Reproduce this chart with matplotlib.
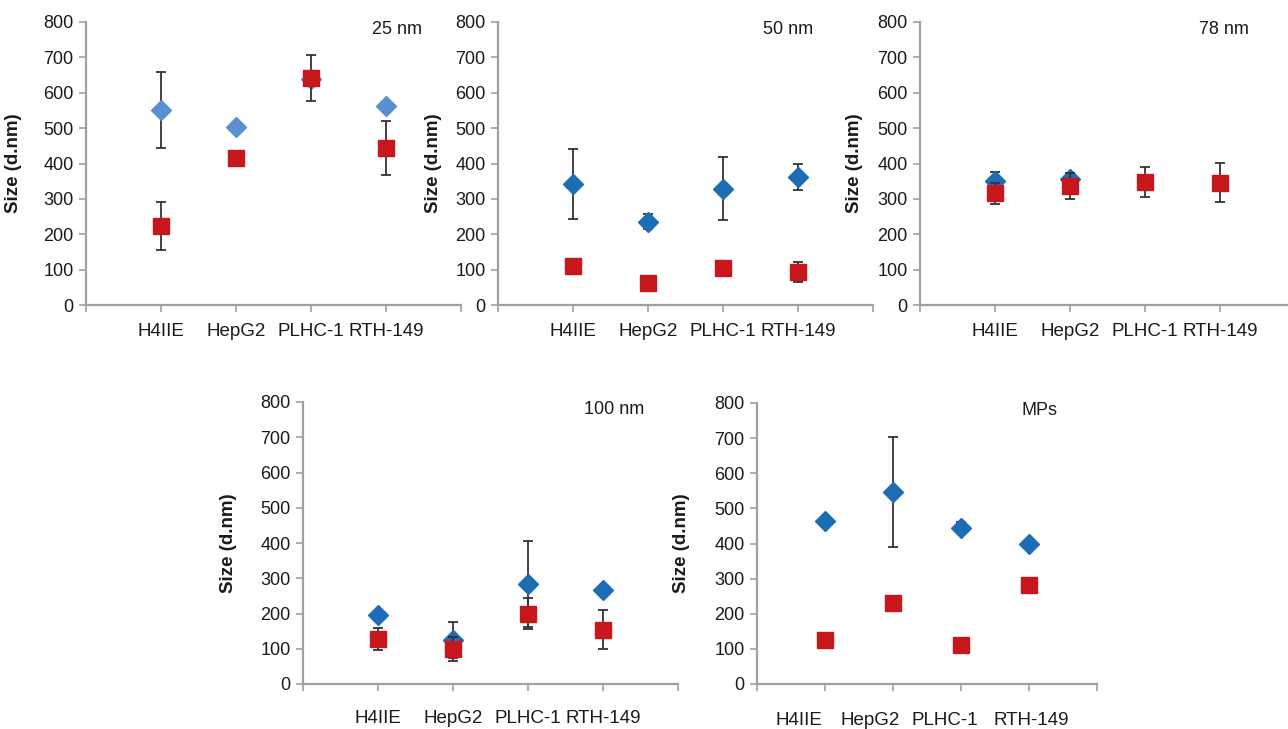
import numpy as np
import matplotlib
matplotlib.use('Agg')
import matplotlib.pyplot as plt

plt.rcParams['font.family'] = ['Liberation Sans', 'DejaVu Sans']

cells = ['H4IIE', 'HepG2', 'PLHC-1', 'RTH-149']
panel_names = ['25 nm', '50 nm', '78 nm', '100 nm', 'MPs']

# blue diamonds (0 = hidden behind the red square)
blue_25 = [551, 502, 640, 562]
blue_25_err = [107, 0, 0, 0]
blue_50 = [341, 236, 328, 361]
blue_50_err = [99, 22, 89, 37]
blue_78 = [350, 355, 0, 0]
blue_78_err = [27, 12, 0, 0]
blue_100 = [196, 125, 284, 267]
blue_100_err = [10, 50, 122, 8]
blue_mp = [465, 547, 445, 400]
blue_mp_err = [10, 157, 15, 0]

# red squares
red_25 = [223, 416, 643, 444]
red_25_err = [68, 0, 65, 77]
red_50 = [111, 63, 106, 93]
red_50_err = [0, 0, 0, 29]
red_78 = [316, 336, 347, 346]
red_78_err = [30, 36, 43, 55]
red_100 = [128, 99, 200, 154]
red_100_err = [31, 33, 43, 56]
red_mp = [124, 232, 112, 281]
red_mp_err = [0, 0, 0, 0]

blues = [blue_25, blue_50, blue_78, blue_100, blue_mp]
blue_errs = [blue_25_err, blue_50_err, blue_78_err, blue_100_err, blue_mp_err]
reds = [red_25, red_50, red_78, red_100, red_mp]
red_errs = [red_25_err, red_50_err, red_78_err, red_100_err, red_mp_err]

W, H = 1288, 729
# axes boxes in pixels: left, top(y=800), right, bottom(y=0)
boxes = [(86, 22, 461, 305), (498, 22, 873, 305), (920, 22, 1295, 305),
         (303, 402, 678, 684), (757, 403, 1097, 684)]
label_x = [22, 442, 863, 237, 690]
title_x = [0.83, 0.773, 0.81, 0.83, 0.83]
xpad = [13, 13, 13, 19, 20]
# where the category names sit (the last panel is shifted in the original)
name_pos = [[1, 2, 3, 4]] * 4 + [[0.62, 1.66, 2.76, 4.03]]
blue_cols = ['#5b8fd2', '#1d6db6', '#1d6db6', '#1d6db6', '#1d6db6']
red_col = '#c8171c'
axis_col = '#a0a0a0'
txt_col = '#1a1a1a'
err_kw = dict(fmt='none', ecolor='#333333', elinewidth=1.3, capsize=3.5, capthick=1.3)

fig = plt.figure(figsize=(W / 100, H / 100), dpi=100)

x = np.arange(1, 5)
for i in range(5):
    l, t, r, b = boxes[i]
    ax = fig.add_axes([l / W, 1 - b / H, (r - l) / W, (b - t) / H])
    bv = np.array(blues[i], float)
    be = np.array(blue_errs[i], float)
    rv = np.array(reds[i], float)
    re = np.array(red_errs[i], float)

    show_b = bv > 0
    m = (be > 0) & show_b
    ax.errorbar(x[m], bv[m], yerr=be[m], zorder=2.5, **err_kw)
    ax.plot(x[show_b], bv[show_b], 'D', color=blue_cols[i], ms=10.5, zorder=3)
    m = re > 0
    ax.errorbar(x[m], rv[m], yerr=re[m], zorder=3.5, **err_kw)
    ax.plot(x, rv, 's', color=red_col, ms=11.5, zorder=4)

    ax.set_xlim(0, 5)
    ax.set_ylim(0, 800)
    ax.set_yticks(np.arange(0, 801, 100))
    ax.xaxis.remove_overlapping_locs = False
    ax.set_xticks(np.arange(0, 6))
    ax.set_xticklabels([])
    ax.set_xticks(name_pos[i], minor=True)
    ax.set_xticklabels(cells, minor=True)
    for s in ['top', 'right']:
        ax.spines[s].set_visible(False)
    for s in ['left', 'bottom']:
        ax.spines[s].set_color(axis_col)
        ax.spines[s].set_linewidth(1.6)
    ax.tick_params(axis='y', direction='out', length=5, width=1.2, color=axis_col,
                   labelsize=13, labelcolor=txt_col, pad=4)
    ax.tick_params(axis='x', which='major', direction='out', length=5, width=1.2,
                   color=axis_col)
    ax.tick_params(axis='x', which='minor', length=0, labelsize=13.5,
                   labelcolor=txt_col, pad=xpad[i])
    ax.set_ylabel('Size (d.nm)', fontsize=13.5, fontweight='bold', color=txt_col)
    ax.yaxis.set_label_coords((label_x[i] - l) / (r - l), 0.5)
    ax.text(title_x[i], 0.975, panel_names[i], transform=ax.transAxes,
            ha='center', va='center', fontsize=13, color=txt_col)
    ax.patch.set_alpha(0)

fig.savefig('out.png', dpi=100, facecolor='white')
